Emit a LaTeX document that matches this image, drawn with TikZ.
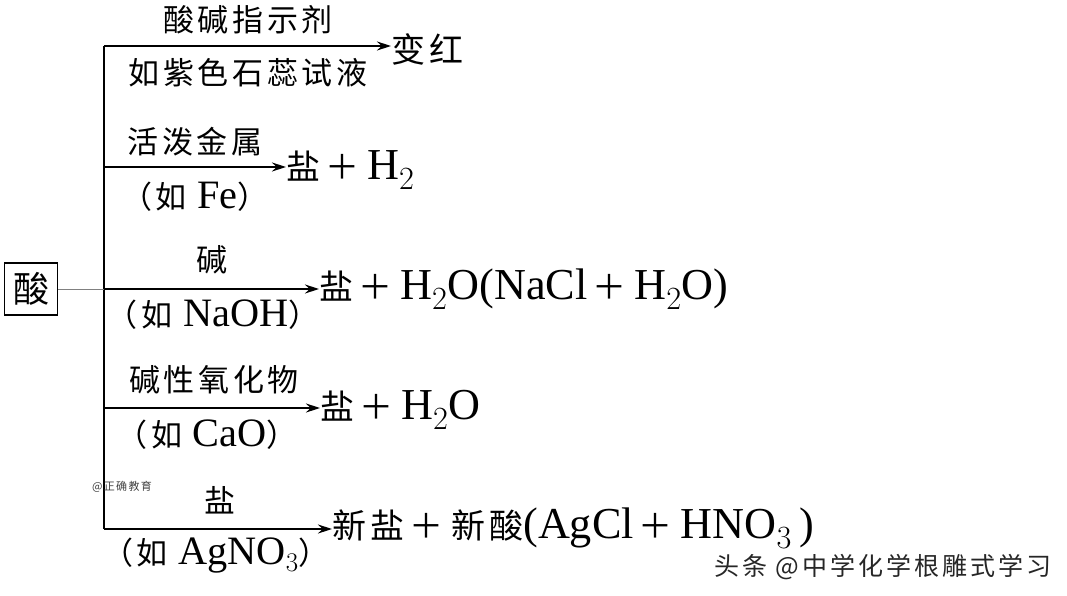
\documentclass[tikz,border=0pt]{standalone}
\usepackage{fontspec}
\usepackage{graphicx}
\setmainfont{Liberation Serif}
\newfontfamily\cjk[LetterSpace=12]{Noto Sans CJK SC}
\usetikzlibrary{arrows.meta}
\newcommand{\lat}[1]{\scalebox{1.3}{\rmfamily #1}}
\newcommand{\pl}{\kern5pt＋\kern8pt}

\begin{document}
\begin{tikzpicture}[x=1pt, y=-1pt,
  lbl/.style={font=\cjk\fontsize{31}{31}\selectfont, inner sep=0pt},
  res/.style={anchor=west, font=\cjk\fontsize{34}{34}\selectfont, inner sep=0pt},
  arr/.style={line width=1.3pt, -{Stealth[length=14pt,width=9pt]}}]
	\useasboundingbox (0,0) rectangle (1067,596);
	% acid and the trunk
	\node[draw, line width=1.2pt, minimum width=53pt, minimum height=52pt, inner sep=0pt, font=\cjk\fontsize{36}{36}\selectfont] (acid) at (31,289) {酸};
	\coordinate (top) at (104,46);
	\coordinate (bot) at (104,529);
	\coordinate (mid) at (104,289);
	\draw[line width=1.3pt] (top) -- (bot);
	\draw[gray, line width=0.8pt] (acid) -- (mid);
	\coordinate (b1) at (104,46);
	\coordinate (b2) at (104,167);
	\coordinate (b3) at (104,289);
	\coordinate (b4) at (104,408);
	\coordinate (b5) at (104,529);
	% indicator
	\node[lbl] (up1) at (248,20) {酸碱指示剂};
	\node[lbl] (dn1) at (248,73) {如紫色石蕊试液};
	\node[res] (r1) at (391,49) {变红};
	\draw[arr] (b1) -- (b1 -| r1.west);
	% metal
	\node[lbl] (up2) at (195,142) {活泼金属};
	\node[lbl] (dn2) at (195,197) {（如 \lat{Fe}）};
	\node[res] (r2) at (286,170) {盐\pl\lat{H$_2$}};
	\draw[arr] (b2) -- (b2 -| r2.west);
	% base
	\node[lbl] (up3) at (212,260) {碱};
	\node[lbl] (dn3) at (213,315) {（如 \lat{NaOH}）};
	\node[res] (r3) at (319,289) {盐\pl\lat{H$_2$O(NaCl}\pl\lat{H$_2$O)}};
	\draw[arr] (b3) -- (b3 -| r3.west);
	% basic oxide
	\node[lbl] (up4) at (214,380) {碱性氧化物};
	\node[lbl] (dn4) at (207,435) {（如 \lat{CaO}）};
	\node[res] (r4) at (320,410) {盐\pl\lat{H$_2$O}};
	\draw[arr] (b4) -- (b4 -| r4.west);
	% salt
	\node[lbl] (up5) at (220,500) {盐};
	\node[lbl] (dn5) at (216,556) {（如 \lat{AgNO$_3$}）};
	\node[res] (r5) at (332,528) {新盐\pl 新酸\lat{(AgCl}\pl\lat{HNO$_3$\,)}};
	\draw[arr] (b5) -- (b5 -| r5.west);
	% marks
	\node[font=\cjk\fontsize{11}{11}\selectfont, text=black!75, inner sep=0pt] (wm1) at (122,487) {@正确教育};
	\node[font=\cjk\fontsize{25}{25}\selectfont, text=black!85, inner sep=0pt] (wm2) at (883,567) {头条 @中学化学根雕式学习};
\end{tikzpicture}
\end{document}
